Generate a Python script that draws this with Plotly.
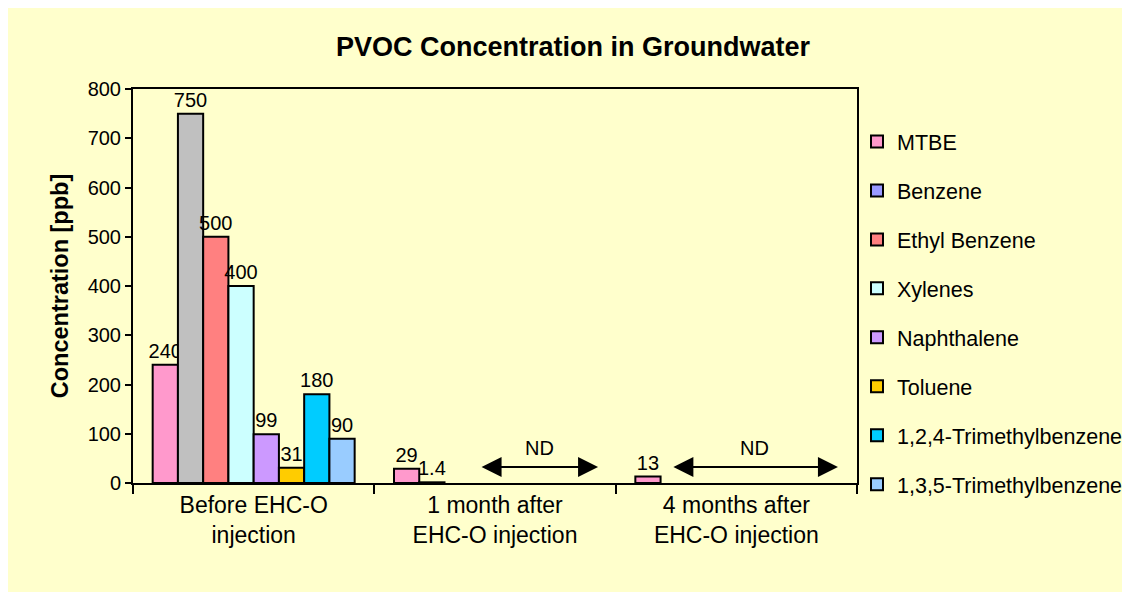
import plotly.graph_objects as go

categories = ["Before EHC-O<br>injection", "1 month after<br>EHC-O injection", "4 months after<br>EHC-O injection"]
series_names = ["MTBE", "Benzene", "Ethyl Benzene", "Xylenes", "Naphthalene", "Toluene",
                "1,2,4-Trimethylbenzene", "1,3,5-Trimethylbenzene"]
mtbe = [240, 29, 13]
benzene = [750, 1.4, None]
ethyl_benzene = [500, None, None]
xylenes = [400, None, None]
naphthalene = [99, None, None]
toluene = [31, None, None]
tmb124 = [180, None, None]
tmb135 = [90, None, None]
series_values = [mtbe, benzene, ethyl_benzene, xylenes, naphthalene, toluene, tmb124, tmb135]

colors = ["#FF99CC", "#9999FF", "#FF8080", "#CCFFFF", "#CC99FF", "#FFCC00", "#00CCFF", "#99CCFF"]
benzene_point_colors = ["#C0C0C0", "#9999FF", "#9999FF"]

# ND (not detected) ranges: (start, end) in category units
nd_ranges = [(0.938, 1.427), (1.733, 2.421)]
nd_arrow_y = 32.5
nd_label_y = 71

FONT = "Liberation Sans, Arial, sans-serif"
BG = "#FFFFCC"
W, H = 1114, 584

fig = go.Figure()
for i, (name, vals) in enumerate(zip(series_names, series_values)):
    mc = benzene_point_colors if name == "Benzene" else colors[i]
    fig.add_trace(go.Bar(
        x=categories, y=vals, name=name,
        marker=dict(color=mc, line=dict(color="black", width=2)),
        text=[None if v is None else str(v) for v in vals],
        textposition="outside", constraintext="none", cliponaxis=False,
        textfont=dict(family=FONT, size=20, color="black"),
        offsetgroup=str(i), legendgroup=str(i), legendrank=i + 1,
        showlegend=(name != "Benzene"),
    ))
    if name == "Benzene":
        # legend entry for Benzene in its series colour
        fig.add_trace(go.Bar(
            x=categories, y=[None] * len(categories), name=name,
            marker=dict(color=colors[i], line=dict(color="black", width=2)),
            offsetgroup=str(i), legendgroup=str(i), legendrank=i + 1,
            showlegend=True, hoverinfo="skip",
        ))

annotations = []
for (a, b) in nd_ranges:
    annotations.append(dict(
        x=b, y=nd_arrow_y, ax=a, ay=nd_arrow_y, xref="x", yref="y", axref="x", ayref="y",
        text="", showarrow=True, arrowhead=2, startarrowhead=2, arrowside="end+start",
        arrowsize=2, startarrowsize=2, arrowwidth=2, arrowcolor="black", standoff=0, startstandoff=0,
    ))
    annotations.append(dict(
        x=(a + b) / 2, y=nd_label_y, xref="x", yref="y", text="ND", showarrow=False,
        font=dict(family=FONT, size=20, color="black"),
    ))

fig.update_layout(
    width=W, height=H,
    margin=dict(l=125, r=265, t=81, b=109, autoexpand=False),
    paper_bgcolor=BG, plot_bgcolor=BG,
    barmode="group", bargap=0.163, bargroupgap=0,
    font=dict(family=FONT, color="black"),
    title=dict(text="<b>PVOC Concentration in Groundwater</b>", x=565 / W, xanchor="center",
               y=1 - 39 / H, yanchor="middle", font=dict(family=FONT, size=27, color="black")),
    showlegend=True,
    legend=dict(xref="container", yref="container", x=849 / W, xanchor="left",
                y=1 - 305 / H, yanchor="middle", bgcolor="rgba(0,0,0,0)", maxheight=600,
                font=dict(family=FONT, size=21.5, color="black"), tracegroupgap=18,
                itemclick=False, itemdoubleclick=False),
    annotations=annotations,
)
fig.update_xaxes(
    type="category", showline=True, linecolor="black", linewidth=2, mirror=True,
    ticks="outside", tickson="boundaries", ticklen=9, tickcolor="black", tickwidth=1.5,
    tickfont=dict(family=FONT, size=23, color="black"), showgrid=False,
)
fig.update_yaxes(
    range=[0, 800], dtick=100, tick0=0, showline=True, linecolor="black", linewidth=2, mirror=True,
    ticks="outside", ticklen=6, tickcolor="black", tickwidth=1.5, showgrid=False, zeroline=False,
    tickfont=dict(family=FONT, size=20, color="black"),
    title=dict(text="<b>Concentration [ppb]</b>", font=dict(family=FONT, size=23.5, color="black"), standoff=12),
)

fig.write_html("out.html")
